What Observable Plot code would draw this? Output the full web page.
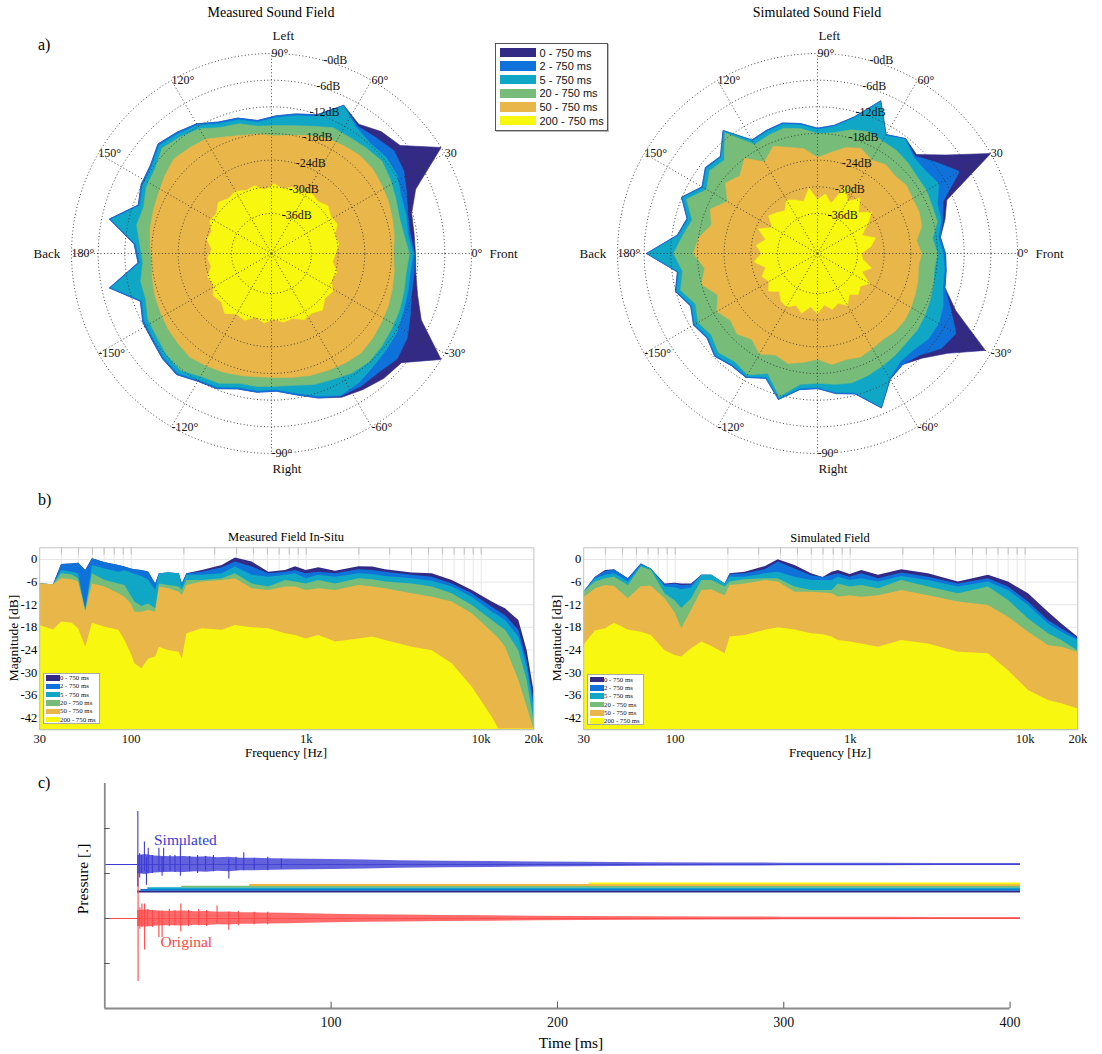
<!DOCTYPE html>
<html><head><meta charset="utf-8">
<script src="https://cdn.jsdelivr.net/npm/d3@7"></script>
<script src="https://cdn.jsdelivr.net/npm/@observablehq/plot@0.6"></script>
<style>
body{margin:0;background:#fff;}
#root{position:relative;width:1102px;height:1054px;overflow:hidden;background:#fff;}
</style></head><body><div id="root"></div>
<script>
// ---------------- DATA ----------------
const layerNames = ["0 - 750 ms","2 - 750 ms","5 - 750 ms","20 - 750 ms","50 - 750 ms","200 - 750 ms"];

// a) polar, measured (angle in degrees, magnitude in dB)
const measAngles = [0,8,16,24,32,40,48,56,64,72,80,88,96,104,112,120,128,136,144,152,160,168,176,184,192,200,208,216,224,232,240,248,256,264,272,280,288,296,304,312,320,328,336,344,352];
const measN = [-12.6,-12.6,-12.2,-9.5,0,-7.2,-8.1,-9.9,-7.9,-12.2,-13.1,-14.0,-14.9,-13.6,-13.1,-11.3,-10.4,-9.5,-11.3,-11.8,-13.1,-7.7,-14.0,-14.9,-7.7,-13.6,-12.2,-11.8,-10.9,-10.4,-11.8,-12.2,-13.6,-13.6,-14.0,-12.7,-10.8,-9.0,-8.1,-7.2,-6.8,0,-8.1,-10.8,-12.2];
const measB = [-12.8,-13.5,-13.1,-11.7,-9.9,-9.0,-9.9,-10.4,-7.9,-12.2,-13.1,-14.0,-14.9,-13.6,-13.1,-11.3,-10.4,-9.5,-11.3,-11.8,-13.1,-7.7,-14.0,-14.9,-7.7,-13.6,-12.2,-11.8,-10.9,-10.4,-11.8,-12.2,-13.6,-13.6,-14.0,-12.7,-10.8,-9.3,-9.0,-9.0,-8.1,-9.0,-10.8,-12.2,-12.6];
const measT = [-13.1,-14.0,-13.5,-13.1,-11.7,-11.3,-11.7,-10.8,-8.1,-12.6,-13.5,-14.4,-15.3,-14.0,-13.5,-11.7,-10.8,-9.9,-11.7,-12.2,-13.5,-8.1,-14.4,-15.3,-8.1,-14.0,-12.6,-12.2,-11.3,-10.8,-12.2,-12.6,-14.0,-14.0,-14.4,-13.1,-11.3,-9.5,-9.9,-10.8,-11.3,-11.7,-12.6,-13.1,-13.5];
const measG = [-14.0,-14.9,-15.1,-14.4,-13.5,-12.6,-13.1,-13.5,-13.5,-14.9,-15.8,-16.2,-16.2,-14.9,-14.4,-12.6,-11.7,-10.8,-12.6,-13.1,-14.4,-14.0,-15.3,-16.0,-14.9,-14.9,-13.5,-13.1,-12.2,-11.7,-13.1,-13.5,-14.9,-14.9,-15.1,-14.9,-14.0,-13.5,-12.6,-12.2,-12.6,-13.1,-13.5,-14.0,-14.4];
const measO = [-17.6,-17.1,-16.7,-16.2,-15.8,-15.3,-15.3,-15.8,-16.2,-17.1,-18.0,-18.5,-18.0,-17.6,-16.7,-15.3,-14.9,-14.4,-15.3,-16.2,-16.7,-17.1,-17.6,-18.0,-17.6,-17.1,-16.7,-16.2,-15.8,-15.3,-15.8,-16.2,-16.7,-17.1,-17.1,-16.7,-16.2,-15.8,-15.3,-14.9,-15.3,-15.8,-16.2,-16.7,-17.1];
const measY = [-30.6,-29.7,-30.2,-28.8,-29.3,-28.4,-29.3,-28.8,-29.7,-29.3,-30.2,-29.3,-30.6,-29.3,-29.7,-28.8,-29.3,-28.4,-29.7,-29.3,-30.6,-30.2,-31.5,-30.6,-31.1,-29.7,-30.2,-28.8,-29.3,-27.9,-29.3,-28.8,-30.2,-29.3,-30.2,-29.3,-29.7,-28.4,-28.8,-27.9,-29.3,-28.8,-30.2,-29.7,-31.1];

// a) polar, simulated
const simAngles = [0,7.5,15,22.5,30,37.5,45,52.5,60,67.5,75,82.5,90,97.5,105,112.5,120,127.5,135,142.5,150,157.5,165,172.5,180,187.5,195,202.5,210,217.5,225,232.5,240,247.5,255,262.5,270,277.5,285,292.5,300,307.5,315,322.5,330,337.5,345,352.5];
const simN = [-16.2,-17.1,-15.3,-13.5,0,-8.6,-13.5,-12.4,-14.1,-7.8,-13.2,-15.9,-16.8,-15.5,-14.6,-15.0,-15.5,-10.1,-14.1,-13.2,-15.0,-11.9,-14.6,-13.2,-6.5,-13.2,-11.9,-14.1,-12.8,-13.7,-12.3,-13.2,-12.8,-14.6,-11.0,-14.1,-14.6,-13.2,-12.3,-7.4,-12.3,-13.5,-11.7,-8.1,-1.4,-11.3,-15.3,-15.8];
const simB = [-16.2,-17.1,-15.8,-14.4,-8.1,-11.3,-14.0,-12.4,-14.1,-7.8,-13.2,-15.9,-16.8,-15.5,-14.6,-15.0,-15.5,-10.1,-14.1,-13.2,-15.0,-11.9,-14.6,-13.2,-6.5,-13.2,-11.9,-14.1,-12.8,-13.7,-12.3,-13.2,-12.8,-14.6,-11.0,-14.1,-14.6,-13.2,-12.3,-7.4,-12.3,-13.5,-12.6,-9.9,-9.0,-12.6,-15.3,-15.8];
const simT = [-16.7,-17.6,-16.2,-15.8,-13.5,-14.4,-14.4,-12.6,-14.4,-8.1,-13.5,-16.2,-17.1,-15.8,-14.9,-15.3,-15.8,-10.4,-14.4,-13.5,-15.3,-12.2,-14.9,-13.5,-6.8,-13.5,-12.2,-14.4,-13.1,-14.0,-12.6,-13.5,-13.1,-14.9,-11.3,-14.4,-14.9,-13.5,-12.6,-7.7,-12.6,-14.4,-14.4,-13.5,-13.5,-14.4,-15.8,-16.2];
const simG = [-18.0,-18.9,-17.1,-17.1,-16.7,-16.7,-16.2,-15.8,-15.8,-15.3,-16.2,-17.6,-18.0,-16.7,-15.8,-16.2,-16.7,-10.8,-15.3,-14.4,-16.2,-13.1,-15.8,-14.4,-12.6,-14.4,-13.1,-15.3,-14.0,-14.9,-13.5,-14.4,-13.5,-15.8,-11.7,-15.3,-15.8,-15.3,-14.9,-15.3,-15.8,-16.2,-16.7,-16.7,-17.1,-17.6,-18.0,-18.5];
const simO = [-21.6,-22.5,-20.7,-20.3,-20.3,-19.8,-20.3,-19.8,-20.7,-19.4,-20.3,-22.1,-23.4,-21.2,-20.3,-18.9,-21.2,-18.0,-20.3,-18.9,-21.6,-18.9,-20.3,-18.0,-17.1,-19.4,-18.0,-20.7,-18.9,-20.3,-19.4,-20.7,-18.9,-20.3,-19.4,-20.3,-21.2,-19.8,-20.3,-19.8,-20.3,-20.7,-20.3,-20.3,-20.7,-21.2,-21.6,-22.1];
const simY = [-35.1,-32.9,-31.5,-34.2,-32.0,-29.7,-32.0,-29.3,-31.5,-28.8,-33.3,-31.5,-32.9,-30.2,-32.9,-32.0,-31.1,-32.9,-32.0,-31.1,-33.3,-30.6,-32.9,-31.1,-32.4,-30.6,-32.9,-31.5,-32.4,-31.1,-32.9,-31.5,-31.1,-32.4,-31.1,-32.9,-31.5,-33.3,-32.0,-32.9,-31.5,-33.3,-32.0,-32.9,-31.5,-34.2,-32.4,-34.7];

const polarTickAngles = [0,30,60,90,120,150,180,210,240,270,300,330];
const polarTickLabels = ["0°","30","60°","90°","120°","150°","180°","-150°","-120°","-90°","-60°","-30°"];
const ringDb = [0,-6,-12,-18,-24,-30,-36];
const sideNames = ["Front","Left","Back","Right"];
const sideAngles = [0,90,180,270];

// b) frequency responses (Hz, dB)
const measFreq = [30,36,40,46,50,55,60,71,85,92,100,105,115,126,138,145,164,188,196,208,255,331,394,491,611,762,869,1000,1180,1470,2000,2400,2840,4030,5250,6830,8890,11560,12600,13770,16400,18300,20000];
const measFN = [-6.5,-6.7,-1.3,-1.2,-1.0,-2.9,0.2,-0.9,-1.6,-2.0,-2.5,-2.7,-2.9,-3.4,-6.5,-3.8,-3.6,-3.8,-6.5,-3.8,-2.9,-1.6,0.4,-0.7,-3.4,-2.9,-1.9,-2.9,-2.2,-3.1,-1.9,-2.0,-2.7,-3.6,-3.8,-5.6,-8.2,-11.3,-12.2,-13.1,-16.2,-24.2,-34.8];
const measFB = [-6.5,-6.7,-1.3,-1.2,-1.0,-2.9,0.2,-0.9,-1.6,-2.0,-2.5,-2.7,-2.9,-3.4,-6.5,-3.8,-3.6,-3.8,-6.5,-3.8,-3.4,-2.2,-0.7,-2.0,-3.8,-3.4,-2.9,-3.8,-3.4,-3.8,-2.7,-2.9,-3.4,-4.2,-4.7,-6.5,-9.1,-12.7,-13.8,-14.9,-18.8,-26.9,-37.4];
const measFT = [-6.5,-6.7,-2.9,-3.4,-3.8,-13.5,-1.6,-2.5,-3.4,-3.0,-3.6,-4.0,-4.5,-5.5,-8.2,-3.8,-3.6,-3.8,-7.3,-4.2,-4.2,-3.8,-2.0,-4.2,-4.7,-4.2,-3.8,-5.1,-4.2,-4.7,-3.8,-4.0,-4.5,-5.1,-5.8,-7.3,-10.0,-14.0,-15.0,-16.2,-20.6,-28.6,-39.2];
const measFG = [-6.5,-6.7,-3.8,-4.1,-5.1,-13.5,-3.8,-5.6,-6.5,-6.9,-9.7,-11.3,-12.5,-11.8,-13.1,-6.5,-6.9,-7.3,-8.2,-5.6,-5.6,-5.1,-3.8,-6.5,-7.3,-5.6,-6.0,-6.5,-5.6,-6.5,-5.1,-5.4,-6.0,-6.5,-7.3,-9.1,-12.2,-16.2,-17.5,-18.8,-24.2,-32.1,-42.7];
const measFO = [-6.5,-6.7,-5.1,-5.4,-6.0,-14.0,-6.5,-7.3,-9.1,-10.0,-11.8,-14.0,-14.0,-13.5,-14.0,-7.3,-7.8,-8.7,-9.6,-6.9,-6.0,-5.6,-5.1,-7.8,-8.2,-7.3,-7.3,-8.2,-7.8,-8.2,-6.9,-7.3,-7.8,-9.1,-10.0,-11.3,-14.4,-19.3,-21.0,-23.3,-32.1,-39.2,-45];
const measFY = [-17.5,-18.7,-16.6,-16.9,-18.4,-23.3,-16.9,-18.0,-18.8,-21.5,-25.0,-27.7,-29.0,-26.4,-25.9,-23.3,-24.2,-24.6,-26.4,-19.7,-18.4,-18.8,-17.5,-18.1,-18.4,-19.7,-20.2,-21.1,-20.2,-21.9,-21.1,-20.6,-21.5,-23.3,-24.2,-27.7,-33.9,-41.9,-45,-45,-45,-45,-45];

const simFreq = [30,35,40,45,54,64,73,87.5,100,109,124,142,162,193,206,251,326,388,484,601,700,787,857,1000,1165,1452,1972,2800,4155,6170,8030,10450,13590,16200,20000];
const simFN = [-8.7,-4.7,-2.9,-2.7,-5.1,-1.2,-2.5,-6.5,-6.3,-6.5,-6.5,-4.2,-4.2,-6.5,-3.8,-3.4,-1.9,-0.1,-1.6,-3.8,-4.8,-3.4,-2.9,-4.0,-2.9,-4.2,-2.7,-3.8,-6.0,-4.2,-6.0,-9.1,-14.0,-17.1,-20.6];
const simFB = [-8.7,-4.7,-3.2,-2.8,-5.1,-1.2,-2.5,-6.8,-6.5,-7.0,-6.8,-4.2,-4.2,-6.5,-4.0,-3.8,-2.7,-0.7,-2.5,-4.3,-4.8,-4.2,-3.8,-4.7,-3.8,-5.1,-3.6,-4.7,-6.5,-5.1,-7.3,-11.3,-16.2,-18.4,-21.0];
const simFT = [-8.7,-5.2,-4.2,-3.8,-6.0,-1.6,-2.5,-7.3,-7.5,-8.0,-7.6,-4.2,-4.2,-6.5,-4.7,-4.7,-3.8,-3.4,-4.7,-5.6,-5.6,-5.6,-4.7,-5.6,-5.1,-6.0,-4.5,-5.6,-7.3,-6.0,-8.2,-12.2,-17.1,-19.3,-21.5];
const simFG = [-8.7,-6.0,-5.1,-4.7,-6.9,-2.0,-2.9,-9.1,-11.0,-13.0,-10.4,-5.6,-5.6,-7.3,-6.0,-5.4,-5.1,-5.1,-7.3,-8.2,-8.2,-8.2,-6.5,-7.3,-6.9,-7.8,-5.6,-7.3,-9.1,-7.3,-10.9,-15.8,-19.7,-21.5,-24.2];
const simFO = [-10.2,-7.8,-6.9,-7.2,-10.4,-7.2,-7.1,-10.4,-14.2,-18.4,-13.5,-8.2,-8.0,-9.6,-6.9,-6.5,-5.6,-6.0,-8.7,-8.7,-8.9,-9.1,-10.0,-9.6,-10.0,-9.6,-8.2,-9.6,-11.3,-12.2,-15.3,-19.3,-22.8,-23.3,-24.6];
const simFY = [-22.8,-19.0,-18.4,-16.9,-18.7,-19.3,-20.2,-24.2,-25.5,-25.9,-23.7,-21.9,-23.1,-25.0,-20.6,-20.2,-18.8,-18.1,-18.7,-19.7,-20.0,-20.6,-21.5,-21.9,-22.4,-23.3,-21.5,-22.4,-24.6,-25.0,-29.5,-34.8,-37.4,-38.3,-39.6];

const freqTickValues = [30,100,1000,10000,20000];
const freqTickLabels = ["30","100","1k","10k","20k"];
const dbTickValues = [0,-6,-12,-18,-24,-30,-36,-42];

// c) time signals (ms, pressure [.])
const simBase = 0.6, origBase = 0, onsetMs = 14.5;
const envT = [14.5,18,22,26,30,35,40,45,50,55,60,70,80,90,100,115,130,150,170,190,210,240,270,300,340,370,404.6];
const simEnv = [0.10,0.11,0.095,0.09,0.085,0.09,0.08,0.085,0.075,0.08,0.07,0.068,0.062,0.058,0.055,0.05,0.043,0.037,0.033,0.028,0.024,0.02,0.017,0.015,0.013,0.012,0.011];
const origEnv = [0.09,0.095,0.085,0.08,0.08,0.082,0.075,0.078,0.07,0.072,0.065,0.062,0.058,0.052,0.046,0.042,0.038,0.033,0.03,0.026,0.023,0.019,0.017,0.015,0.013,0.012,0.011];
const simSpikeT = [14.6,15.4,16.3,17.5,18.4,19.2,21.0,23.9,25.3,26.0,28.8,31.0,33.4,37.5,41.0,44.5,48.0,54.8,58.0,61.4,66.0,72.0,78.0];
const simSpikeLo = [0.35,0.45,0.50,0.52,0.37,0.50,0.50,0.52,0.47,0.52,0.52,0.51,0.47,0.52,0.50,0.53,0.52,0.44,0.53,0.53,0.54,0.53,0.55];
const simSpikeHi = [1.19,0.72,0.70,0.85,0.68,0.78,0.70,0.78,0.68,0.78,0.70,0.70,0.82,0.69,0.70,0.69,0.70,0.66,0.68,0.73,0.67,0.68,0.66];
const origSpikeT = [14.7,15.5,16.4,17.6,19.0,21.0,23.9,25.3,28.5,31.0,33.6,37.0,41.5,45.0,49.6,54.8,59.0,66.0,72.0];
const origSpikeLo = [-0.70,-0.12,-0.10,-0.35,-0.09,-0.10,-0.21,-0.21,-0.09,-0.08,-0.15,-0.09,-0.08,-0.09,-0.06,-0.13,-0.08,-0.07,-0.07];
const origSpikeHi = [0.51,0.12,0.16,0.16,0.10,0.09,0.08,0.08,0.10,0.09,0.16,0.09,0.10,0.09,0.14,0.07,0.08,0.07,0.07];
const windowStart = [14.5,16,19,34,64,214];
const windowLevel = [0.30,0.318,0.336,0.354,0.372,0.39];
const traceEnd = 404.6;
const timeTicks = [100,200,300,400];
const pressureTicks = [-0.5,0,0.5,1];

// ---------------- STYLE ----------------
const COLORS = ["#332a86","#0f72db","#10a7c6","#78bc79","#e9b64a","#f8f70f"];
const SERIF = "'Liberation Serif','Times New Roman',serif";
const SANS = "'Liberation Sans',Arial,sans-serif";
const BLUE = "#3b3bd4", RED = "#ff4646";
const root = document.getElementById("root");

function place(el, left, top) {
  const w = document.createElement("div");
  w.style.cssText = `position:absolute;left:${left}px;top:${top}px;`;
  w.appendChild(el); root.appendChild(w);
}
function label(txt, x, y, o = {}) {
  const d = document.createElement("div");
  d.textContent = txt;
  const a = o.anchor || "middle";
  const tx = a === "middle" ? "-50%" : a === "end" ? "-100%" : "0";
  d.style.cssText = `position:absolute;left:${x}px;top:${y}px;white-space:nowrap;line-height:1;font-family:${o.family || SERIF};font-size:${o.size || 12}px;color:${o.color || "#000"};transform:translate(${tx},-50%)${o.rotate ? ` rotate(${o.rotate}deg)` : ""};`;
  root.appendChild(d);
}

// ---------------- POLAR ----------------
const rad = a => a * Math.PI / 180;
const rr = db => (db + 45) / 45;
const circleSteps = d3.range(0, 360, 2);
function polar(angles, layers) {
  const marks = [];
  layers.forEach((vals, i) => {
    const rows = angles.map((a, j) => ({a, db: vals[j]}));
    marks.push(Plot.line(rows, {
      x: d => rr(d.db) * Math.cos(rad(d.a)), y: d => rr(d.db) * Math.sin(rad(d.a)),
      curve: "linear-closed", fill: COLORS[i], stroke: COLORS[i], strokeWidth: 0.6
    }));
  });
  ringDb.forEach(db => marks.push(Plot.line(circleSteps, {
    x: a => rr(db) * Math.cos(rad(a)), y: a => rr(db) * Math.sin(rad(a)),
    curve: "linear-closed", stroke: "#333", strokeWidth: 0.9, strokeDasharray: "1 2.4", strokeLinecap: "butt"
  })));
  marks.push(Plot.link(polarTickAngles, {
    x1: 0, y1: 0, x2: a => Math.cos(rad(a)), y2: a => Math.sin(rad(a)),
    stroke: "#333", strokeWidth: 0.9, strokeDasharray: "1 2.4", strokeLinecap: "butt"
  }));
  marks.push(Plot.text(polarTickAngles, {
    x: a => Math.cos(rad(a)), y: a => Math.sin(rad(a)), text: (a, i) => polarTickLabels[i],
    textAnchor: "start", fontFamily: SERIF, fontSize: 12, fill: "#111"
  }));
  marks.push(Plot.text(ringDb, {
    x: db => rr(db) * Math.cos(rad(75)), y: db => rr(db) * Math.sin(rad(75)),
    text: db => "-" + Math.abs(db) + "dB", textAnchor: "start", fontFamily: SERIF, fontSize: 12, fill: "#111"
  }));
  const sideR = [1.09, 1.09, 1.19, 1.075];
  marks.push(Plot.text(sideAngles, {
    x: (a, i) => sideR[i] * Math.cos(rad(a)) + (a === 90 || a === 270 ? 0.005 : 0),
    y: (a, i) => sideR[i] * Math.sin(rad(a)),
    text: (a, i) => sideNames[i], textAnchor: "start", fontFamily: SERIF, fontSize: 13, fill: "#111"
  }));
  return Plot.plot({
    width: 520, height: 460, margin: 0,
    x: {domain: [-1.3, 1.3], axis: null}, y: {domain: [-1.15, 1.15], axis: null},
    style: {background: "transparent", overflow: "visible"},
    marks
  });
}
place(polar(measAngles, [measN, measB, measT, measG, measO, measY]), 11, 23);
place(polar(simAngles, [simN, simB, simT, simG, simO, simY]), 557, 23);

// ---------------- FREQUENCY ----------------
const logGrid = [];
[10, 100, 1000, 10000].forEach(p => { for (let k = 1; k <= 9; k++) { const v = k * p; if (v > 30 && v < 20000) logGrid.push(v); } });
function freqPlot(freqs, layers, ml, mr) {
  const marks = [
    Plot.gridX(logGrid, {stroke: "#e6e6e6", strokeOpacity: 1}),
    Plot.gridY(dbTickValues, {stroke: "#e6e6e6", strokeOpacity: 1})
  ];
  layers.forEach((vals, i) => {
    marks.push(Plot.areaY(freqs.map((f, j) => ({f, v: vals[j]})), {x: "f", y1: -45.2, y2: "v", fill: COLORS[i]}));
  });
  marks.push(Plot.ruleX(logGrid, {y1: 3.1, y2: 1.2, stroke: "#c2c2c2"}));
  marks.push(Plot.frame({stroke: "#c4c4c4"}));
  marks.push(Plot.text(freqTickValues, {x: d => d, y: -45.2, text: (d, i) => freqTickLabels[i], dy: 9, fontSize: 12.5, fontFamily: SERIF, fill: "#111"}));
  marks.push(Plot.axisY(dbTickValues, {tickSize: 0, tickPadding: 2.5, tickFormat: d => String(d), fontSize: 12.5, fontFamily: SERIF, label: null}));
  return Plot.plot({
    width: 545, height: 240, marginLeft: ml, marginRight: mr, marginTop: 17.3, marginBottom: 40.7,
    x: {type: "log", domain: [30, 20000], axis: null},
    y: {domain: [-45.2, 3.1], axis: null},
    style: {background: "#fff", overflow: "visible", fontFamily: SERIF},
    marks
  });
}
place(freqPlot(measFreq, [measFN, measFB, measFT, measFG, measFO, measFY], 39.2, 11.6), 0, 530);
place(freqPlot(simFreq, [simFN, simFB, simFT, simFG, simFO, simFY], 38.2, 12.7), 545, 530);

// ---------------- TIME ----------------
const envRows = envT.map((t, i) => ({t, s: simEnv[i], o: origEnv[i]}));
const tMarks = [];
windowStart.forEach((s, i) => tMarks.push(Plot.ruleY([windowLevel[i]], {x1: s, x2: traceEnd, stroke: COLORS[i], strokeWidth: 1.9})));
// original
tMarks.push(Plot.ruleY([origBase], {x1: 0, x2: onsetMs, stroke: RED, strokeWidth: 1.1}));
tMarks.push(Plot.areaY(envRows, {x: "t", y1: d => origBase - d.o, y2: d => origBase + d.o, fill: RED, fillOpacity: 0.8}));
tMarks.push(Plot.ruleY([origBase], {x1: onsetMs, x2: traceEnd, stroke: RED, strokeWidth: 0.8}));
tMarks.push(Plot.ruleX(origSpikeT, {x: d => d, y1: (d, i) => origSpikeLo[i], y2: (d, i) => origSpikeHi[i], stroke: RED, strokeWidth: 1.1}));
// simulated
tMarks.push(Plot.ruleY([simBase], {x1: 0, x2: onsetMs, stroke: BLUE, strokeWidth: 1.1}));
tMarks.push(Plot.areaY(envRows, {x: "t", y1: d => simBase - d.s, y2: d => simBase + d.s, fill: BLUE, fillOpacity: 0.8}));
tMarks.push(Plot.ruleY([simBase], {x1: onsetMs, x2: traceEnd, stroke: BLUE, strokeWidth: 0.8}));
tMarks.push(Plot.ruleX(simSpikeT, {x: d => d, y1: (d, i) => simSpikeLo[i], y2: (d, i) => simSpikeHi[i], stroke: BLUE, strokeWidth: 1.1}));
// axes
tMarks.push(Plot.ruleX([0], {y1: -1, y2: 1.5, stroke: "#8a8a8a", strokeWidth: 1.8}));
tMarks.push(Plot.ruleY([-1], {x1: 0, x2: 400, stroke: "#8a8a8a", strokeWidth: 1.8}));
tMarks.push(Plot.ruleX(timeTicks, {y1: -1, y2: -0.93, stroke: "#555", strokeWidth: 1}));
tMarks.push(Plot.ruleY(pressureTicks, {x1: 0, x2: 2.4, stroke: "#555", strokeWidth: 1}));
tMarks.push(Plot.text(timeTicks, {x: d => d, y: -1, dy: 14, fontSize: 14, fontFamily: SERIF, fill: "#111"}));
place(Plot.plot({
  width: 1102, height: 284, marginLeft: 104.3, marginRight: 82, marginTop: 13, marginBottom: 46,
  x: {domain: [0, 404.6], axis: null}, y: {domain: [-1, 1.5], axis: null},
  style: {background: "transparent", overflow: "visible", fontFamily: SERIF},
  marks: tMarks
}), 0, 770);

// ---------------- TEXT ----------------
label("Measured Sound Field", 271, 13, {size: 14});
label("Simulated Sound Field", 817, 13, {size: 14});
label("a)", 38, 45, {size: 16, anchor: "start"});
label("b)", 38, 500, {size: 16, anchor: "start"});
label("c)", 38, 783, {size: 16, anchor: "start"});
label("Measured Field In-Situ", 286, 537, {size: 12.5});
label("Simulated Field", 830, 538, {size: 12.5});
label("Frequency [Hz]", 286, 752, {size: 13});
label("Frequency [Hz]", 830, 752, {size: 13});
label("Magnitude [dB]", 14, 638, {size: 13.5, rotate: -90});
label("Magnitude [dB]", 557, 638, {size: 13.5, rotate: -90});
label("Pressure [.]", 83, 879, {size: 15.5, rotate: -90});
label("Time [ms]", 571, 1043, {size: 15.5});
label("Simulated", 154, 840, {size: 15.5, anchor: "start", color: BLUE});
label("Original", 160.5, 942, {size: 15.5, anchor: "start", color: RED});

// polar legend
(function () {
  const box = document.createElement("div");
  box.style.cssText = "position:absolute;left:495px;top:43px;width:113px;height:88px;border:1px solid #555;background:#fff;box-sizing:border-box;box-shadow:1px 1px 0 #bbb;";
  layerNames.forEach((n, i) => {
    const cy = 8.5 + 13.6 * i;
    const sw = document.createElement("div");
    sw.style.cssText = `position:absolute;left:4px;top:${cy - 4.8}px;width:36px;height:9.6px;background:${COLORS[i]};`;
    box.appendChild(sw);
    const tx = document.createElement("div");
    tx.textContent = n;
    tx.style.cssText = `position:absolute;left:43.5px;top:${cy}px;transform:translateY(-50%);font-family:${SANS};font-size:11px;line-height:1;white-space:nowrap;color:#111;`;
    box.appendChild(tx);
  });
  root.appendChild(box);
})();
// frequency legends
function freqLegend(left, top) {
  const box = document.createElement("div");
  box.style.cssText = `position:absolute;left:${left}px;top:${top}px;width:57px;height:51px;border:1px solid #aaa;background:#fff;box-sizing:border-box;`;
  layerNames.forEach((n, i) => {
    const cy = 4.6 + 8.3 * i;
    const sw = document.createElement("div");
    sw.style.cssText = `position:absolute;left:2px;top:${cy - 2.8}px;width:13.5px;height:5.6px;background:${COLORS[i]};`;
    box.appendChild(sw);
    const tx = document.createElement("div");
    tx.textContent = n;
    tx.style.cssText = `position:absolute;left:16px;top:${cy}px;transform:translateY(-50%);font-family:${SERIF};font-size:6.8px;line-height:1;white-space:nowrap;color:#111;`;
    box.appendChild(tx);
  });
  root.appendChild(box);
}
freqLegend(43, 672.5);
freqLegend(587, 674);
</script></body></html>
